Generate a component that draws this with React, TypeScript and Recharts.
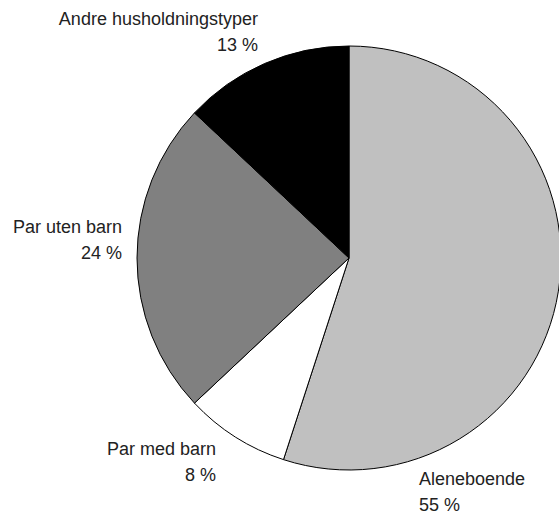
import React from "react"
import { PieChart, Pie, Cell } from "recharts"

const categories = ["Aleneboende", "Par med barn", "Par uten barn", "Andre husholdningstyper"]
const shares = [55, 8, 24, 13]
const colors = ["#c0c0c0", "#ffffff", "#808080", "#000000"]

const data = categories.map((name, i) => ({ name, value: shares[i] }))

// label placement relative to the pie centre (the original places them by hand)
const labelSpots = [
  { dx: 70, dy: 227, anchor: "start" },
  { dx: -133, dy: 197, anchor: "end" },
  { dx: -227, dy: -25, anchor: "end" },
  { dx: -91, dy: -233, anchor: "end" },
]

const renderLabel = (props: any) => {
  const { cx, cy, index, name, value } = props
  const spot = labelSpots[index]
  const x = cx + spot.dx
  const y = cy + spot.dy
  return (
    <text
      x={x}
      y={y}
      textAnchor={spot.anchor}
      fill="#222"
      fontSize={18}
      fontFamily="'Liberation Sans', Arial, sans-serif"
    >
      <tspan x={x} y={y}>{name}</tspan>
      <tspan x={x} y={y + 26}>{`${value} %`}</tspan>
    </text>
  )
}

export default function App() {
  return (
    <div style={{ position: "fixed", left: 0, top: 0, background: "#fff" }}>
      <PieChart width={559} height={516} margin={{ top: 0, right: 0, bottom: 0, left: 0 }}>
        <Pie
          data={data}
          dataKey="value"
          nameKey="name"
          cx={349}
          cy={258}
          outerRadius={212}
          startAngle={90}
          endAngle={-270}
          stroke="#000"
          strokeWidth={1}
          label={renderLabel}
          labelLine={false}
          isAnimationActive={false}
        >
          {data.map((d, i) => (
            <Cell key={d.name} fill={colors[i]} />
          ))}
        </Pie>
      </PieChart>
    </div>
  )
}
